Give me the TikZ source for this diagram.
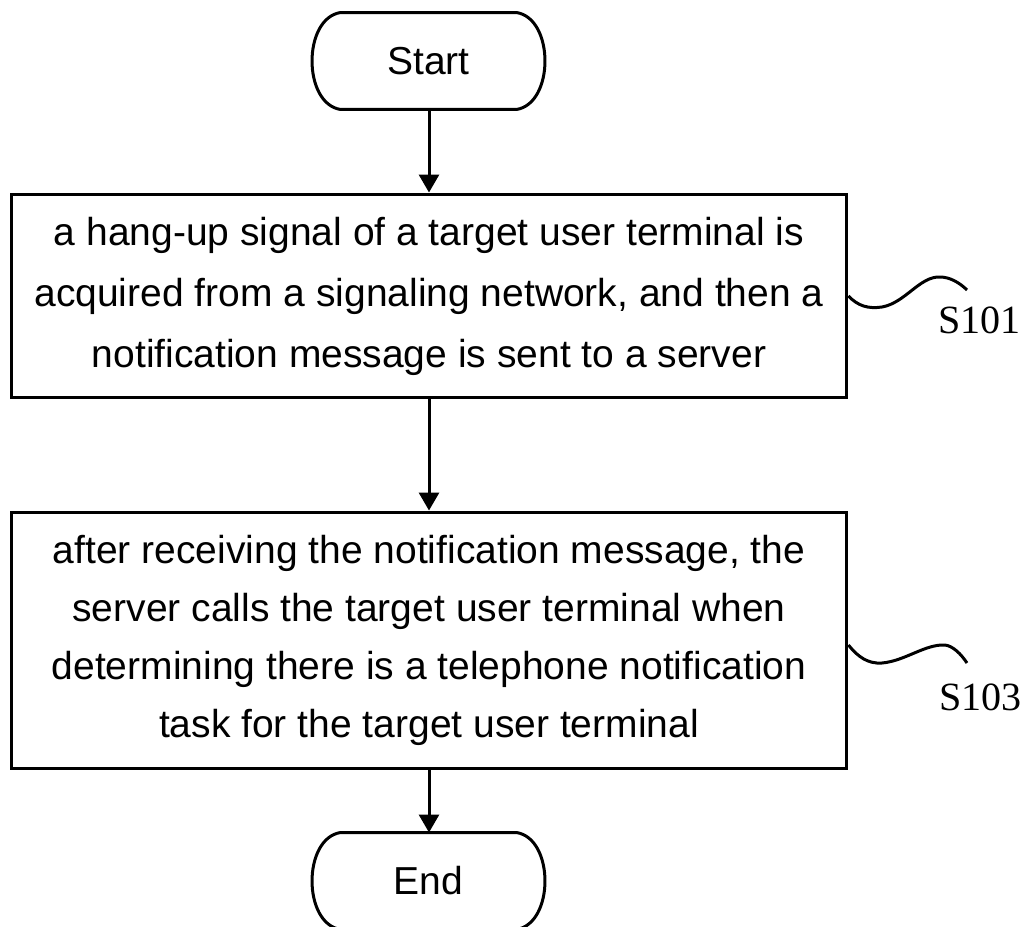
\documentclass[tikz,border=0pt]{standalone}
\usepackage{fontspec}
\setmainfont{Liberation Sans}
\newfontfamily\serifS{Liberation Serif}
\usetikzlibrary{arrows.meta}
\begin{document}
\begin{tikzpicture}[x=0.02cm,y=-0.02cm,
  every node/.style={inner sep=0pt, line width=0.06cm},
  term/.style={minimum width=3.46cm, minimum height=1.88cm, font=\fontsize{22.2}{34.7}\selectfont},
  termline/.style={line width=0.06cm},
  proc/.style={draw, align=center, minimum width=16.72cm},
  flow/.style={line width=0.06cm, -{Triangle[length=0.36cm,width=0.4cm]}},
  squig/.style={line width=0.06cm},
  steplabel/.style={font=\serifS\fontsize{22.8}{27}\selectfont, anchor=base west}]
\useasboundingbox (0,0) rectangle (1022,927);
\node[term] (start) at (428.5,61) {Start};
\draw[termline] (start.north west) -- (start.north east)
  .. controls +(38,6) and +(38,-6) .. (start.south east) -- (start.south west)
  .. controls +(-38,-6) and +(-38,6) .. cycle;
\node[proc, minimum height=4.08cm, font=\fontsize{22.2}{34.7}\selectfont] (b1) at (429,296)
  {a hang-up signal of a target user terminal is\\
   acquired from a signaling network, and then a\\
   notification message is sent to a server};
\node[proc, minimum height=5.14cm, font=\fontsize{22.2}{33}\selectfont] (b2) at (429,640.5)
  {after receiving the notification message, the\\
   server calls the target user terminal when\\
   determining there is a telephone notification\\
   task for the target user terminal};
\node[term] (end) at (428.5,881) {End};
\draw[termline] (end.north west) -- (end.north east)
  .. controls +(38,6) and +(38,-6) .. (end.south east) -- (end.south west)
  .. controls +(-38,-6) and +(-38,6) .. cycle;
\draw[flow] (start.south -| b1.north) -- (b1.north);
\draw[flow] (b1) -- (b2);
\draw[flow] (b2.south) -- (b2.south |- end.north);
\coordinate (s1end) at (967,290);
\coordinate (s3end) at (967,663);
\draw[squig] (b1.east) .. controls (858,306) and (868,309) .. (882,307)
  .. controls (905,303) and (920,276) .. (940,277)
  .. controls (950,277) and (960,283) .. (s1end);
\draw[squig] ([yshift=-0.09cm]b2.east) .. controls (858,657) and (868,664) .. (882,663)
  .. controls (905,661) and (925,644) .. (945,645)
  .. controls (953,646) and (961,654) .. (s3end);
\node[steplabel] (l1) at (937,333) {S101};
\node[steplabel] (l3) at (938,710) {S103};
\end{tikzpicture}
\end{document}
